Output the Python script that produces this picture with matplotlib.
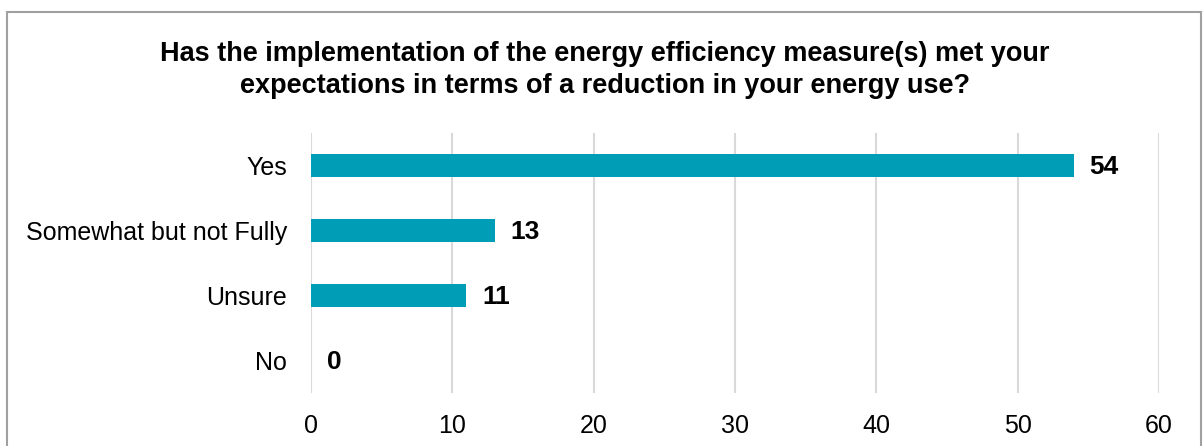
import matplotlib.pyplot as plt
from matplotlib.patches import Rectangle

categories = ['Yes', 'Somewhat but not Fully', 'Unsure', 'No']
responses = [54, 13, 11, 0]
x_ticks = [0, 10, 20, 30, 40, 50, 60]

plt.rcParams['font.family'] = ['Liberation Sans', 'DejaVu Sans']

fig = plt.figure(figsize=(12.03, 4.46), dpi=100)
ax = fig.add_axes([0.2585, 0.1188, 0.7049, 0.583])

pos = list(range(len(categories)))
ax.barh(pos, responses, height=0.34, color='#009db6')
for p, v in zip(pos, responses):
    ax.text(v + 1.1, p + 0.03, str(v), va='center', ha='left', fontsize=19, fontweight='bold')

ax.set_ylim(len(categories) - 0.5, -0.5)
ax.set_xlim(0, 60)
ax.set_yticks(pos)
ax.set_yticklabels(categories, fontsize=18)
ax.set_xticks(x_ticks)
ax.set_xticklabels([str(t) for t in x_ticks], fontsize=18)
ax.tick_params(axis='y', length=0, pad=17)
ax.tick_params(axis='x', length=0, pad=15)
ax.grid(axis='x', color='#d9d9d9', linewidth=1.5)
ax.set_axisbelow(True)
for s in ax.spines.values():
    s.set_visible(False)

fig.text(0.503, 0.843, 'Has the implementation of the energy efficiency measure(s) met your\n'
         'expectations in terms of a reduction in your energy use?',
         ha='center', va='center', fontsize=19.5, fontweight='bold', linespacing=1.33)

# outer frame
fig.patches.append(Rectangle((7 / 1203, -0.05), 1194 / 1203, 1 - 12 / 446 + 0.05,
                             transform=fig.transFigure, fill=False,
                             edgecolor='#a0a0a0', linewidth=1.5))

fig.savefig('out.png', dpi=100)
